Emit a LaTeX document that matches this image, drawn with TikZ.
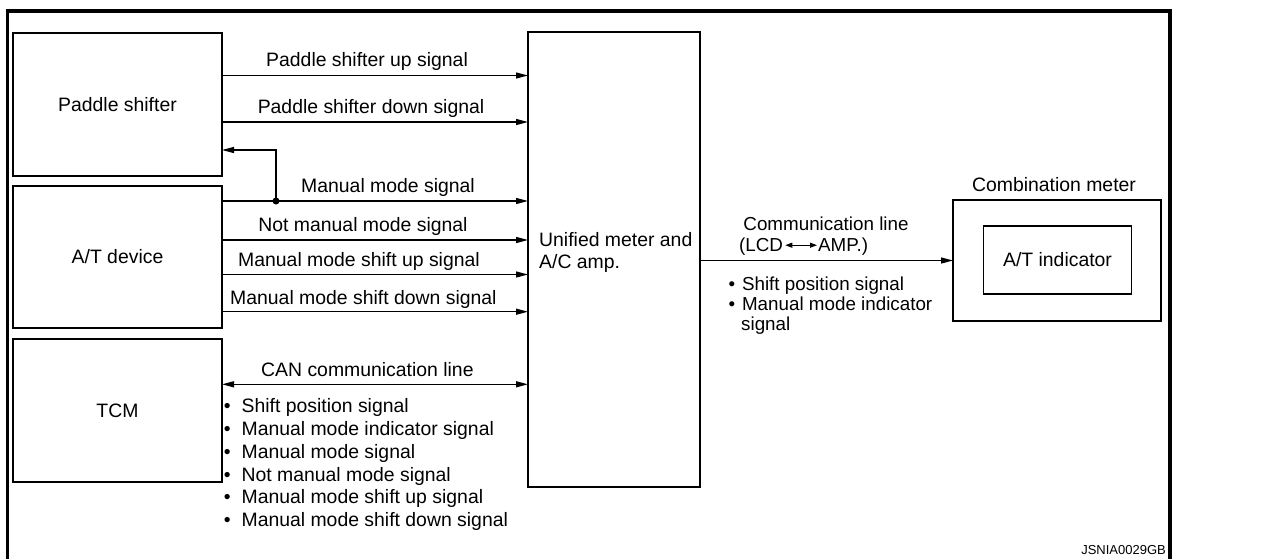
\documentclass[tikz,border=0pt]{standalone}
\usepackage{fontspec}
\setmainfont{Liberation Sans}
\usetikzlibrary{arrows.meta}
\newcommand\lblfont{\fontsize{19.4}{22.4}\selectfont}
\newcommand\rtfont{\fontsize{18.8}{20}\selectfont}
\begin{document}
\begin{tikzpicture}[x=1pt,y=-1pt,
  box/.style={draw, line width=1.3pt, outer sep=0pt, inner sep=0pt, font=\lblfont},
  arr/.style={line width=1.3pt, -{Triangle[length=12pt,width=6pt]}},
  darr/.style={line width=1.3pt, {Triangle[length=12pt,width=6pt]}-{Triangle[length=12pt,width=6pt]}},
  lbl/.style={font=\lblfont, inner sep=0pt, anchor=base west},
  clbl/.style={font=\lblfont, inner sep=0pt, anchor=base},
  rlbl/.style={font=\rtfont, inner sep=0pt, anchor=base west},
]
\useasboundingbox (0,0) rectangle (1278,558);
% frame
\draw[line width=3.3pt] (7.5,560) -- (7.5,11) -- (1170,11) -- (1170,560);
% boxes
\node[box, minimum width=209, minimum height=143] (ps) at (117.5,104.5) {Paddle shifter};
\node[box, minimum width=209, minimum height=142] (at) at (117.5,257) {A/T device};
\node[box, minimum width=209, minimum height=143] (tcm) at (117.5,410.5) {TCM};
\node[box, minimum width=172, minimum height=455] (um) at (614,259.5) {};
\node[box, minimum width=208, minimum height=121] (cm) at (1057,260.5) {};
\node[box, minimum width=148, minimum height=68] (ati) at (1057.5,260) {A/T indicator};
\node[clbl] (cmt) at (1054,191.7) {Combination meter};
% unified label
\node[lbl] (ul1) at (539,246.7) {Unified meter and};
\node[lbl] (ul2) at (539,268.3) {A/C amp.};
% y levels
\coordinate (y1) at (0,75.5);
\coordinate (y2) at (0,122);
\coordinate (yb) at (0,150);
\coordinate (y3) at (0,201);
\coordinate (y4) at (0,240);
\coordinate (y5) at (0,274.5);
\coordinate (y6) at (0,311.7);
\coordinate (ycan) at (0,384.3);
% arrows
\draw[arr] (ps.east |- y1) -- (um.west |- y1);
\draw[arr] (ps.east |- y2) -- (um.west |- y2);
\draw[arr] (at.east |- y3) -- (um.west |- y3);
\draw[arr] (at.east |- y4) -- (um.west |- y4);
\draw[arr] (at.east |- y5) -- (um.west |- y5);
\draw[arr] (at.east |- y6) -- (um.west |- y6);
\node[circle, fill, inner sep=0pt, minimum size=7pt] (dot) at (276,201) {};
\draw[arr] (dot.center) -- (dot.center |- yb) -- (ps.east |- yb);
\draw[darr] (tcm.east |- ycan) -- (um.west |- ycan);
\draw[arr] (um.east |- cm.west) -- (cm.west);
% signal labels
\node[lbl] (t1) at (266,66.5) {Paddle shifter up signal};
\node[clbl] (t2) at (371,113) {Paddle shifter down signal};
\node[lbl] (t3) at (301,192.3) {Manual mode signal};
\node[clbl] (t4) at (363,231) {Not manual mode signal};
\node[lbl] (t5) at (238,266.7) {Manual mode shift up signal};
\node[lbl] (t6) at (230,304.3) {Manual mode shift down signal};
\node[lbl] (t7) at (261,376) {CAN communication line};
% TCM list
\node[lbl] (b1) at (223.6,412.3) {•\hspace{11pt}Shift position signal};
\node[lbl] (b2) at (223.6,435.2) {•\hspace{11pt}Manual mode indicator signal};
\node[lbl] (b3) at (223.6,458.1) {•\hspace{11pt}Manual mode signal};
\node[lbl] (b4) at (223.6,481) {•\hspace{11pt}Not manual mode signal};
\node[lbl] (b5) at (223.6,503.9) {•\hspace{11pt}Manual mode shift up signal};
\node[lbl] (b6) at (223.6,526.8) {•\hspace{11pt}Manual mode shift down signal};
% comm line labels
\node[font=\rtfont, inner sep=0pt, anchor=base] (cl) at (826,230) {Communication line};
\node[rlbl] (lcd) at (739,251.7) {(LCD};
\node[rlbl] (amp) at (818,251.7) {AMP.)};
\draw[line width=1pt, {Triangle[length=7pt,width=5pt]}-{Triangle[length=7pt,width=5pt]}] ([xshift=2pt,yshift=6.5pt]lcd.base east) -- ([xshift=-1pt,yshift=6.5pt]amp.base west);
\node[rlbl] (r1) at (728.3,290) {•\hspace{7pt}Shift position signal};
\node[rlbl] (r2) at (728.3,310) {•\hspace{7pt}Manual mode indicator};
\node[rlbl] (r3) at (741,330) {signal};
% code
\node[font=\fontsize{13}{14}\selectfont, inner sep=0pt, anchor=base east] (code) at (1166,554) {JSNIA0029GB};
\end{tikzpicture}
\end{document}
